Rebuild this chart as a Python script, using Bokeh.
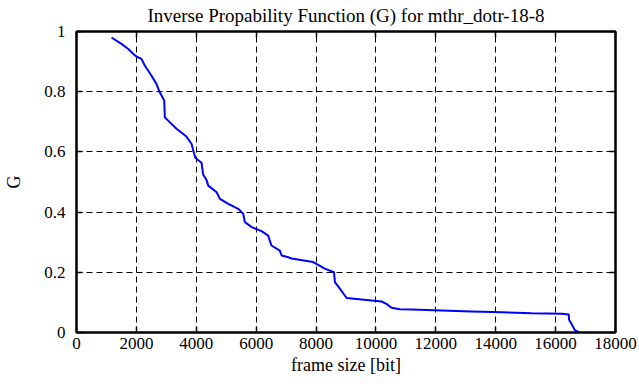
from bokeh.plotting import figure
from bokeh.models import LinearAxis, FixedTicker, Range1d, CustomLabelingPolicy
from bokeh.embed import file_html
from bokeh.resources import INLINE

frame_size = [1170, 1500, 1730, 1890, 2000, 2170, 2280, 2500, 2670, 2780, 2930,
              2950, 3060, 3340, 3670, 3840, 3930, 3975, 4175, 4230, 4340, 4400,
              4680, 4790, 5070, 5400, 5570, 5620, 5850, 6180, 6400, 6510, 6790,
              6850, 7070, 7180, 7900, 8070, 8290, 8600, 8630, 8800, 8960, 9020,
              9520, 10190, 10350, 10520, 10800, 11190, 12190, 13190, 14200,
              15200, 16200, 16440, 16450, 16560, 16650, 16810]
g_values = [0.980, 0.959, 0.942, 0.926, 0.917, 0.909, 0.887, 0.854, 0.826, 0.798,
            0.771, 0.715, 0.704, 0.677, 0.651, 0.627, 0.594, 0.580, 0.564, 0.525,
            0.507, 0.488, 0.466, 0.444, 0.427, 0.411, 0.394, 0.367, 0.350, 0.337,
            0.322, 0.289, 0.272, 0.256, 0.250, 0.246, 0.234, 0.225, 0.212, 0.200,
            0.167, 0.145, 0.123, 0.115, 0.110, 0.103, 0.095, 0.082, 0.077, 0.076,
            0.073, 0.070, 0.067, 0.064, 0.062, 0.060, 0.042, 0.023, 0.007, 0.0]

x_ticks = [0, 2000, 4000, 6000, 8000, 10000, 12000, 14000, 16000, 18000]
y_ticks = [0, 0.2, 0.4, 0.6, 0.8, 1]

FONT = "Liberation Serif"
FS = "17px"
FS_LABEL = "18px"

p = figure(frame_width=539, frame_height=301,
           min_border_left=76, min_border_right=24, min_border_top=31, min_border_bottom=50,
           x_range=Range1d(0, 18000), y_range=Range1d(0, 1),
           output_backend="svg", toolbar_location=None,
           title="Inverse Propability Function (G) for mthr_dotr-18-8")

p.title.align = "center"
p.title.text_font = FONT
p.title.text_font_size = "19px"
p.title.text_font_style = "normal"
p.title.text_color = "black"
p.title.standoff = 4

p.line(frame_size, g_values, line_color="#0000ff", line_width=2)

p.outline_line_color = "black"
p.outline_line_width = 2
p.background_fill_color = "white"
p.border_fill_color = "white"

for ax in p.xaxis:
    ax.ticker = FixedTicker(ticks=x_ticks)
    ax.axis_label = "frame size [bit]"
for ax in p.yaxis:
    ax.ticker = FixedTicker(ticks=y_ticks)
    ax.axis_label = "G"

def style_axis(ax):
    ax.major_tick_in = 6
    ax.major_tick_out = 0
    ax.minor_tick_line_color = None
    ax.axis_line_color = "black"
    ax.axis_line_width = 2
    ax.major_tick_line_color = "black"
    ax.major_tick_line_width = 1.5
    ax.major_label_text_font = FONT
    ax.major_label_text_font_size = FS
    ax.major_label_text_color = "black"
    ax.axis_label_text_font = FONT
    ax.axis_label_text_font_size = FS_LABEL
    ax.axis_label_text_font_style = "normal"
    ax.axis_label_text_color = "black"

style_axis(p.xaxis[0])
style_axis(p.yaxis[0])
p.xaxis[0].major_label_standoff = 5
p.xaxis[0].axis_label_standoff = 3
p.yaxis[0].major_label_standoff = 11
p.yaxis[0].axis_label_standoff = 17

no_labels = CustomLabelingPolicy(code="return new Set()")
top = LinearAxis(ticker=FixedTicker(ticks=x_ticks))
right = LinearAxis(ticker=FixedTicker(ticks=y_ticks))
for ax in (top, right):
    style_axis(ax)
    ax.major_label_text_font_size = "1px"
    ax.major_label_policy = no_labels
    ax.major_label_standoff = 0
p.add_layout(top, "above")
p.add_layout(right, "right")

for gr in (p.xgrid[0], p.ygrid[0]):
    gr.grid_line_color = "black"
    gr.grid_line_dash = "6 4"
    gr.grid_line_width = 1

open("out.html", "w").write(file_html(p, INLINE))
